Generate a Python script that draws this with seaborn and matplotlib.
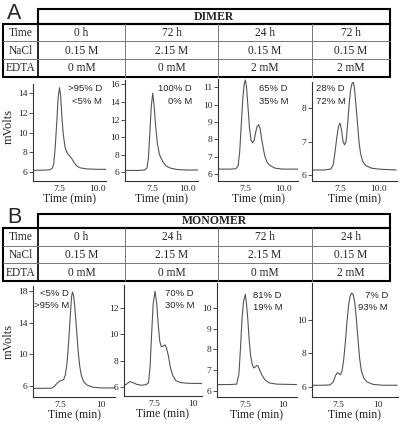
import numpy as np
import pandas as pd
import matplotlib
matplotlib.use("Agg")
import matplotlib.pyplot as plt
import seaborn as sns
from matplotlib.patches import Rectangle

# ---- chromatogram traces (time in min, signal in mV) ----
a1_t = [5.7, 6.5, 6.9, 7.05, 7.15, 7.25, 7.35, 7.45, 7.53, 7.6, 7.68, 7.78, 7.9, 8.05, 8.2, 8.35, 8.5, 8.7, 8.9, 9.3, 10.0, 10.6]
a1_v = [6.2, 6.22, 6.25, 6.4, 6.8, 8.5, 11.0, 13.6, 14.5, 13.8, 11.8, 9.8, 8.5, 7.9, 7.65, 7.35, 6.95, 6.6, 6.45, 6.35, 6.3, 6.3]

a2_t = [5.6, 6.5, 7.0, 7.15, 7.25, 7.35, 7.45, 7.55, 7.65, 7.75, 7.87, 8.02, 8.25, 8.5, 8.8, 9.3, 10.0, 10.7]
a2_v = [6.2, 6.2, 6.25, 6.5, 7.6, 10.5, 13.5, 15.0, 13.5, 11.3, 9.3, 8.0, 7.2, 6.7, 6.45, 6.3, 6.25, 6.25]

a3_t = [5.7, 6.5, 6.9, 7.05, 7.15, 7.25, 7.35, 7.45, 7.52, 7.6, 7.7, 7.8, 7.9, 8.0, 8.1, 8.2, 8.3, 8.4, 8.5, 8.6, 8.7, 8.8, 8.95, 9.15, 9.5, 10.0, 11.0]
a3_v = [6.3, 6.3, 6.32, 6.5, 7.3, 8.8, 10.3, 11.2, 11.4, 11.0, 9.8, 8.6, 7.95, 7.8, 7.95, 8.4, 8.75, 8.85, 8.6, 8.0, 7.5, 7.05, 6.7, 6.5, 6.35, 6.3, 6.3]

a4_t = [5.7, 6.5, 6.9, 7.05, 7.15, 7.3, 7.4, 7.5, 7.6, 7.7, 7.8, 7.9, 8.0, 8.1, 8.2, 8.3, 8.38, 8.45, 8.55, 8.65, 8.75, 8.85, 9.0, 9.2, 9.6, 10.2, 11.2]
a4_v = [6.15, 6.15, 6.18, 6.3, 6.6, 7.15, 7.45, 7.55, 7.35, 7.0, 6.9, 7.0, 7.5, 8.1, 8.55, 8.75, 8.77, 8.6, 8.1, 7.55, 7.0, 6.65, 6.4, 6.28, 6.2, 6.17, 6.15]

b1_t = [5.85, 6.5, 7.0, 7.15, 7.3, 7.45, 7.6, 7.72, 7.82, 7.92, 8.02, 8.12, 8.2, 8.26, 8.32, 8.4, 8.5, 8.6, 8.7, 8.8, 8.95, 9.15, 9.5, 10.0, 10.85]
b1_v = [5.7, 5.7, 5.72, 5.95, 6.3, 6.6, 6.7, 6.8, 7.4, 8.8, 11.5, 14.8, 17.3, 17.9, 17.5, 16.0, 13.3, 10.5, 8.5, 7.3, 6.5, 6.1, 5.85, 5.75, 5.75]

b2_t = [5.58, 5.75, 5.95, 6.15, 6.4, 6.7, 7.0, 7.15, 7.25, 7.35, 7.45, 7.57, 7.67, 7.77, 7.87, 7.97, 8.07, 8.2, 8.3, 8.42, 8.55, 8.7, 8.9, 9.2, 9.7, 10.58]
b2_v = [6.1, 6.25, 6.42, 6.35, 6.22, 6.15, 6.2, 6.35, 7.5, 10.0, 12.3, 13.25, 12.4, 10.8, 9.5, 9.05, 9.1, 9.2, 9.0, 8.4, 7.5, 6.9, 6.5, 6.35, 6.3, 6.28]

b3_t = [5.66, 6.5, 6.95, 7.1, 7.2, 7.3, 7.4, 7.52, 7.6, 7.69, 7.77, 7.87, 7.97, 8.07, 8.17, 8.27, 8.35, 8.47, 8.62, 8.82, 9.1, 9.6, 10.9]
b3_v = [6.3, 6.3, 6.32, 6.8, 8.0, 9.4, 10.3, 10.65, 10.2, 9.4, 8.5, 7.7, 7.3, 7.1, 7.15, 7.22, 7.2, 7.0, 6.75, 6.52, 6.38, 6.32, 6.3]

b4_t = [5.9, 6.5, 7.0, 7.2, 7.35, 7.45, 7.55, 7.65, 7.75, 7.85, 7.95, 8.05, 8.15, 8.25, 8.35, 8.45, 8.55, 8.65, 8.75, 8.85, 8.95, 9.1, 9.3, 9.7, 10.3, 11.2]
b4_v = [6.1, 6.1, 6.12, 6.3, 6.7, 6.85, 6.8, 6.72, 6.95, 7.6, 8.6, 9.8, 10.8, 11.4, 11.6, 11.5, 11.0, 10.0, 8.8, 7.7, 7.0, 6.55, 6.3, 6.15, 6.1, 6.1]

# ---- table contents ----
row_names = ["Time", "NaCl", "EDTA"]
dimer_time = ["0 h", "72 h", "24 h", "72 h"]
dimer_nacl = ["0.15 M", "2.15 M", "0.15 M", "0.15 M"]
dimer_edta = ["0 mM", "0 mM", "2 mM", "2 mM"]
mono_time = ["0 h", "24 h", "72 h", "24 h"]
mono_nacl = ["0.15 M", "2.15 M", "2.15 M", "0.15 M"]
mono_edta = ["0 mM", "0 mM", "0 mM", "2 mM"]

# ---- peak composition notes ----
dimer_notes = [(">95% D", "<5% M"), ("100% D", "0% M"), ("65% D", "35% M"), ("28% D", "72% M")]
mono_notes = [("<5% D", ">95% M"), ("70% D", "30% M"), ("81% D", "19% M"), ("7% D", "93% M")]

# ---- axis ticks ----
a_yticks = [[6, 8, 10, 12, 14], [6, 8, 10, 12, 14, 16], [6, 7, 8, 9, 10, 11], [6, 7, 8]]
b_yticks = [[6, 10, 14, 18], [6, 8, 10, 12], [6, 7, 8, 9, 10], [6, 8, 10]]
x_ticks = [7.5, 10.0]
a_xlabels = ["7.5", "10.0"]
b_xlabels = ["7.5", "10"]

sns.set_style("ticks")
plt.rcParams["font.family"] = ["Liberation Serif", "DejaVu Serif"]
SANS = ["Liberation Sans", "DejaVu Sans"]

W, H = 403, 425
fig = plt.figure(figsize=(W / 100, H / 100), dpi=100)
fig.patch.set_facecolor("white")

def px_axes(l, t, r, b):
    return fig.add_axes([l / W, 1 - b / H, (r - l) / W, (b - t) / H])

# axes boxes in pixels (left, top, right, bottom), with limits
a_boxes = [(33, 84, 106, 181), (125, 80, 198, 181), (218, 79, 298, 181), (312, 82, 397, 181)]
b_boxes = [(33, 286, 115, 397), (124, 285, 202, 396), (217, 283, 297, 397), (312, 283, 398, 397)]
a_xlim = [(5.79, 10.59), (5.62, 10.7), (5.72, 10.99), (5.66, 11.25)]
b_xlim = [(5.85, 10.85), (5.58, 10.58), (5.66, 10.92), (5.87, 11.25)]
a_ylim = [(5.13, 14.87), (5.0, 16.5), (5.62, 11.46), (5.82, 8.78)]
b_ylim = [(4.6, 18.67), (5.34, 13.72), (5.7, 11.2), (5.4, 12.2)]

traces_a = [(a1_t, a1_v), (a2_t, a2_v), (a3_t, a3_v), (a4_t, a4_v)]
traces_b = [(b1_t, b1_v), (b2_t, b2_v), (b3_t, b3_v), (b4_t, b4_v)]

def draw_row(boxes, traces, xlims, ylims, yticks, xlabels):
    for box, (t, v), xl, yl, yt in zip(boxes, traces, xlims, ylims, yticks):
        ax = px_axes(*box)
        df = pd.DataFrame({"time": t, "mv": v})
        sns.lineplot(data=df, x="time", y="mv", ax=ax, color="#555555", linewidth=0.8)
        ax.set_xlim(*xl)
        ax.set_ylim(*yl)
        ax.set_yticks(yt)
        ax.set_xticks(x_ticks)
        ax.set_xticklabels(xlabels)
        ax.set_ylabel("")
        ax.set_xlabel("Time (min)", fontsize=8.5, labelpad=0)
        sns.despine(ax=ax)
        for s in ["left", "bottom"]:
            ax.spines[s].set_color("#333333")
            ax.spines[s].set_linewidth(0.8)
        ax.tick_params(axis="y", length=3, width=0.6, color="#333333", labelsize=6.8, pad=1)
        ax.tick_params(axis="x", length=0, labelsize=6.8, pad=3)
        ax.patch.set_alpha(0)

draw_row(a_boxes, traces_a, a_xlim, a_ylim, a_yticks, a_xlabels)
draw_row(b_boxes, traces_b, b_xlim, b_ylim, b_yticks, b_xlabels)

# overlay in pixel coordinates for tables and notes
ov = fig.add_axes([0, 0, 1, 1])
ov.set_xlim(0, W)
ov.set_ylim(H, 0)
ov.axis("off")
ov.patch.set_alpha(0)

col_edges = [3, 38, 125, 218, 312, 390]

def draw_table(top, letter, title, times, nacl, edta):
    hh, rh = 14.5, 17.7
    body_top = top + hh
    bottom = body_top + 3 * rh
    ov.add_patch(Rectangle((col_edges[1], top), col_edges[-1] - col_edges[1], hh,
                           fill=False, lw=1.5, ec="black"))
    ov.add_patch(Rectangle((col_edges[0], body_top), col_edges[-1] - col_edges[0], 3 * rh,
                           fill=False, lw=1.5, ec="black"))
    ov.plot([col_edges[1]] * 2, [body_top, bottom], color="black", lw=1.2)
    for x in col_edges[2:-1]:
        ov.plot([x, x], [body_top, bottom], color="#777777", lw=0.7)
    for i in (1, 2):
        y = body_top + i * rh
        ov.plot([col_edges[0], col_edges[-1]], [y, y], color="#777777", lw=0.7)
    ov.text(14.5, top + 4, letter, fontsize=15.5, family=SANS, ha="center", va="center")
    ov.text((col_edges[1] + col_edges[-1]) / 2, top + hh / 2 + 0.5, title, fontsize=8.5,
            weight="bold", ha="center", va="center")
    rows = [times, nacl, edta]
    for i, (name, vals) in enumerate(zip(row_names, rows)):
        yc = body_top + (i + 0.5) * rh + 0.5
        ov.text((col_edges[0] + col_edges[1]) / 2, yc, name, fontsize=8.3, ha="center", va="center")
        for j, val in enumerate(vals):
            xc = (col_edges[j + 1] + col_edges[j + 2]) / 2
            ov.text(xc, yc, val, fontsize=8.3, ha="center", va="center")

draw_table(9, "A", "DIMER", dimer_time, dimer_nacl, dimer_edta)
draw_table(213.5, "B", "MONOMER", mono_time, mono_nacl, mono_edta)

ov.text(9, 126, "mVolts", fontsize=9, rotation=90, ha="center", va="center")
ov.text(9, 341, "mVolts", fontsize=9, rotation=90, ha="center", va="center")

# note anchors (x, y of first line, alignment)
a_note_pos = [(102, 88.5, "right"), (192, 88.5, "right"), (259, 88.5, "left"), (316, 88.5, "left")]
b_note_pos = [(69, 293, "right"), (165, 293, "left"), (253, 295, "left"), (388, 295, "right")]
for notes, pos in [(dimer_notes, a_note_pos), (mono_notes, b_note_pos)]:
    for (l1, l2), (x, y, ha) in zip(notes, pos):
        ov.text(x, y, l1, fontsize=6.8, family=SANS, ha=ha, va="center")
        ov.text(x, y + 13, l2, fontsize=6.8, family=SANS, ha=ha, va="center")

fig.savefig("out.png", dpi=100)
